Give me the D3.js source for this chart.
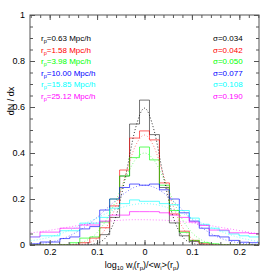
<!DOCTYPE html>
<html>
<head>
<meta charset="utf-8">
<script src="https://cdn.jsdelivr.net/npm/d3@7"></script>
<style>
    body { margin: 0; background: #fff; }
    text { font-family: "Liberation Sans", sans-serif; }
</style>
</head>
<body>
<svg id="chart" width="274" height="274"></svg>
<script>
// histogram bins (log10 w / <w>), width 0.021
const binCenters = [-0.231, -0.21, -0.189, -0.168, -0.147, -0.126, -0.105, -0.084, -0.063, -0.042, -0.021, 0,
    0.021, 0.042, 0.063, 0.084, 0.105, 0.126, 0.147, 0.168, 0.189, 0.21, 0.231];
const binWidth = 0.021;

const histBlack = [0, 0, 0, 0, 0, 0, 0, 0.045, 0.12, 0.30, 0.526, 0.63, 0.48, 0.25, 0.096, 0.04, 0.015, 0, 0, 0, 0, 0, 0];
const histRed = [0, 0, 0, 0, 0, 0.01, 0.03, 0.075, 0.17, 0.326, 0.465, 0.496, 0.457, 0.27, 0.135, 0.06, 0.02, 0.005, 0, 0, 0, 0, 0];
const histGreen = [0, 0, 0, 0, 0.01, 0.03, 0.035, 0.10, 0.20, 0.30, 0.38, 0.426, 0.37, 0.26, 0.15, 0.055, 0.02, 0.01, 0.005, 0, 0, 0, 0];
const histBlue = [0.005, 0.013, 0.013, 0.028, 0.035, 0.07, 0.08, 0.152, 0.20, 0.25, 0.265, 0.26, 0.265, 0.24, 0.20, 0.14, 0.104, 0.073, 0.04, 0.035, 0.02, 0.012, 0.01];
const histCyan = [0.035, 0.04, 0.04, 0.062, 0.062, 0.095, 0.095, 0.12, 0.16, 0.18, 0.196, 0.19, 0.19, 0.18, 0.175, 0.15, 0.117, 0.09, 0.073, 0.062, 0.048, 0.04, 0.035];
const histMagenta = [0.035, 0.056, 0.056, 0.073, 0.073, 0.087, 0.087, 0.104, 0.13, 0.13, 0.145, 0.145, 0.145, 0.14, 0.13, 0.12, 0.10, 0.085, 0.065, 0.065, 0.053, 0.053, 0.05];

// dotted fit curves, read at these x
const curveX = [-0.24, -0.22, -0.2, -0.18, -0.16, -0.14, -0.12, -0.1, -0.08, -0.06, -0.04, -0.02, 0,
    0.02, 0.04, 0.06, 0.08, 0.1, 0.12, 0.14, 0.16, 0.18, 0.2, 0.22, 0.24];
const curveBlack = [0, 0, 0, 0, 0, 0, 0.001, 0.008, 0.037, 0.125, 0.298, 0.50, 0.595, 0.50, 0.298, 0.125, 0.037, 0.008, 0.001, 0, 0, 0, 0, 0, 0];
const curveRed = [0, 0, 0, 0, 0, 0.002, 0.008, 0.028, 0.078, 0.172, 0.304, 0.427, 0.478, 0.427, 0.304, 0.172, 0.078, 0.028, 0.008, 0.002, 0, 0, 0, 0, 0];
const curveGreen = [0, 0, 0, 0.001, 0.002, 0.008, 0.022, 0.054, 0.111, 0.195, 0.29, 0.369, 0.40, 0.369, 0.29, 0.195, 0.111, 0.054, 0.022, 0.008, 0.002, 0.001, 0, 0, 0];
const curveBlue = [0.003, 0.006, 0.012, 0.022, 0.038, 0.06, 0.087, 0.12, 0.158, 0.195, 0.228, 0.252, 0.26, 0.251, 0.227, 0.192, 0.152, 0.112, 0.077, 0.05, 0.03, 0.017, 0.009, 0.004, 0.002];
const curveCyan = [0.018, 0.025, 0.034, 0.047, 0.062, 0.08, 0.099, 0.118, 0.138, 0.155, 0.168, 0.177, 0.18, 0.177, 0.168, 0.154, 0.137, 0.117, 0.097, 0.078, 0.06, 0.045, 0.032, 0.023, 0.015];
const curveMagenta = [0.052, 0.058, 0.064, 0.071, 0.078, 0.085, 0.091, 0.097, 0.102, 0.106, 0.109, 0.11, 0.11, 0.109, 0.108, 0.105, 0.101, 0.096, 0.09, 0.084, 0.077, 0.07, 0.063, 0.056, 0.05];

const radii = ["0.63", "1.58", "3.98", "10.00", "15.85", "25.12"];
const sigmas = ["0.034", "0.042", "0.050", "0.077", "0.108", "0.190"];
const colors = ["#000000", "#ff0000", "#00ff00", "#0000ff", "#00ffff", "#ff00ff"];

const xTickVals = [-0.2, -0.1, 0, 0.1, 0.2];
const xTickLabels = ["0.2", "0.1", "0", "0.1", "0.2"];
const yTickVals = [0, 0.2, 0.4, 0.6, 0.8, 1];
const yTickLabels = ["0", "0.2", "0.4", "0.6", "0.8", "1"];

const hists = [histBlack, histRed, histGreen, histBlue, histCyan, histMagenta];
const curves = [curveBlack, curveRed, curveGreen, curveBlue, curveCyan, curveMagenta];

const svg = d3.select("#chart");
const margin = { top: 15, right: 15, bottom: 29, left: 30 };
const width = 274 - margin.left - margin.right,
    height = 274 - margin.top - margin.bottom;

const x = d3.scaleLinear().domain([-0.2415, 0.2415]).range([0, width]);
const y = d3.scaleLinear().domain([0, 1]).range([height, 0]);

const g = svg.append("g")
    .attr("transform", `translate(${margin.left},${margin.top})`);

g.append("clipPath").attr("id", "clip")
    .append("rect").attr("width", width).attr("height", height + 1).attr("y", -1);

const plot = g.append("g").attr("clip-path", "url(#clip)");

// step histograms
const step = d3.line()
    .x(d => x(d[0]))
    .y(d => y(d[1]))
    .curve(d3.curveStepAfter);

hists.forEach((vals, i) => {
    const pts = binCenters.map((c, j) => [c - binWidth / 2, vals[j]]);
    pts.push([binCenters[binCenters.length - 1] + binWidth / 2, vals[vals.length - 1]]);
    plot.append("path")
        .attr("d", step(pts))
        .attr("fill", "none")
        .attr("stroke", colors[i])
        .attr("stroke-width", 0.9)
        .attr("opacity", i === 0 ? 0.6 : 0.7);
});

// dotted curves
const smooth = d3.line()
    .x(d => x(d[0]))
    .y(d => y(d[1]))
    .curve(d3.curveMonotoneX);

curves.forEach((vals, i) => {
    plot.append("path")
        .attr("d", smooth(curveX.map((c, j) => [c, vals[j]])))
        .attr("fill", "none")
        .attr("stroke", colors[i])
        .attr("stroke-width", 1)
        .attr("stroke-dasharray", "1,2")
        .attr("opacity", i === 0 ? 0.8 : 0.5);
});

// frame and ticks
const axisColor = "#555";

function styleAxis(sel) {
    sel.select(".domain").remove();
    sel.selectAll("line").attr("stroke", axisColor);
    sel.selectAll("text").attr("fill", "#000").style("font-size", "9px");
}

const xMinor = d3.range(-0.24, 0.241, 0.02);
const yMinor = d3.range(0, 1.001, 0.05);

g.append("g").attr("transform", `translate(0,${height})`)
    .call(d3.axisBottom(x).tickValues(xTickVals).tickSize(-5).tickPadding(4)
        .tickFormat((d, i) => xTickLabels[i]))
    .call(styleAxis);
g.append("g").attr("transform", `translate(0,${height})`)
    .call(d3.axisBottom(x).tickValues(xMinor).tickSize(-3).tickFormat(""))
    .call(styleAxis);
g.append("g")
    .call(d3.axisTop(x).tickValues(xTickVals).tickSize(-5).tickFormat(""))
    .call(styleAxis);
g.append("g")
    .call(d3.axisTop(x).tickValues(xMinor).tickSize(-3).tickFormat(""))
    .call(styleAxis);

g.append("g")
    .call(d3.axisLeft(y).tickValues(yTickVals).tickSize(-5).tickPadding(5)
        .tickFormat((d, i) => yTickLabels[i]))
    .call(styleAxis);
g.append("g")
    .call(d3.axisLeft(y).tickValues(yMinor).tickSize(-3).tickFormat(""))
    .call(styleAxis);
g.append("g").attr("transform", `translate(${width},0)`)
    .call(d3.axisRight(y).tickValues(yTickVals).tickSize(-5).tickFormat(""))
    .call(styleAxis);
g.append("g").attr("transform", `translate(${width},0)`)
    .call(d3.axisRight(y).tickValues(yMinor).tickSize(-3).tickFormat(""))
    .call(styleAxis);

g.append("rect")
    .attr("width", width).attr("height", height)
    .attr("fill", "none").attr("stroke", axisColor).attr("stroke-width", 1);

// legend
radii.forEach((r, i) => {
    const t = g.append("text")
        .attr("x", 11).attr("y", 26 + i * 11.5)
        .attr("fill", colors[i])
        .style("font-size", "8px");
    t.append("tspan").text("r");
    t.append("tspan").attr("dy", 2).style("font-size", "5.5px").text("p");
    t.append("tspan").attr("dy", -2).text("=" + r + " Mpc/h");

    g.append("text")
        .attr("x", 183).attr("y", 26 + i * 11.5)
        .attr("fill", colors[i])
        .style("font-size", "8px")
        .text("\u03c3=" + sigmas[i]);
});

// axis titles
const xt = svg.append("text")
    .attr("x", 142).attr("y", 268)
    .attr("text-anchor", "middle")
    .style("font-size", "9px");
[["log", 0], ["10", 2], [" w", -2], ["i", 2], ["(r", -2], ["p", 2], [")/<w", -2], ["i", 2], [">(r", -2], ["p", 2], [")", -2]]
    .forEach(p => {
        const s = xt.append("tspan").attr("dy", p[1]).text(p[0]);
        if (p[1] > 0) s.style("font-size", "6px");
    });

svg.append("text")
    .attr("transform", "translate(14,101) rotate(-90)")
    .attr("text-anchor", "middle")
    .style("font-size", "9px")
    .text("dN / dx");
</script>
</body>
</html>
